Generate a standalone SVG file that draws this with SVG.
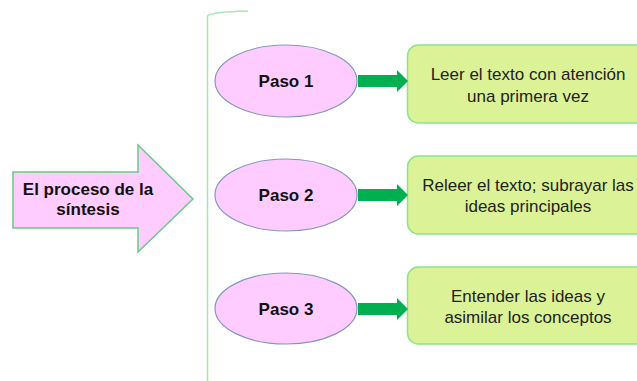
<svg xmlns="http://www.w3.org/2000/svg" width="637" height="381" viewBox="0 0 637 381">
<style>
.ell{fill:#FFCCFF;stroke:#8496BE;stroke-width:1.2}
.box{fill:#DCF296;stroke:#8EE28E;stroke-width:1.5}
.lbl{font-family:"Liberation Sans",Arial,sans-serif;font-size:17px;font-weight:bold;fill:#111;text-anchor:middle}
.txt{font-family:"Liberation Sans",Arial,sans-serif;font-size:17px;fill:#222;text-anchor:middle}
.garrow{fill:#00B050}
</style>
<rect width="637" height="381" fill="#fff"/>
<g id="main">
<polygon points="13,172 138,172 138,145 193,199 138,252 138,228 13,228" fill="#FFCCFF" stroke="#66CC88" stroke-width="1.5"/>
<text class="lbl" x="88" y="195">El proceso de la</text>
<text class="lbl" x="88" y="215">síntesis</text>
</g>
<g id="bracket">
<path d="M248,11 Q210,12 207.5,16 L207.5,381" fill="none" stroke="#A6E8B0" stroke-width="1.5"/>
</g>
<g id="paso1">
<ellipse class="ell" cx="286" cy="81" rx="71" ry="36"/>
<text class="lbl" x="286" y="87">Paso 1</text>
</g>
<g id="paso2">
<ellipse class="ell" cx="286" cy="195" rx="71" ry="36"/>
<text class="lbl" x="286" y="201">Paso 2</text>
</g>
<g id="paso3">
<ellipse class="ell" cx="286" cy="308.5" rx="71" ry="35.5"/>
<text class="lbl" x="286" y="314.5">Paso 3</text>
</g>
<g id="box1">
<rect class="box" x="407.5" y="45" width="250" height="78" rx="11"/>
<text class="txt" x="528" y="80">Leer el texto con atención</text>
<text class="txt" x="528" y="102">una primera vez</text>
</g>
<g id="box2">
<rect class="box" x="407.5" y="156" width="250" height="78" rx="11"/>
<text class="txt" x="528" y="191">Releer el texto; subrayar las</text>
<text class="txt" x="528" y="212">ideas principales</text>
</g>
<g id="box3">
<rect class="box" x="407.5" y="267" width="250" height="77" rx="11"/>
<text class="txt" x="528" y="302">Entender las ideas y</text>
<text class="txt" x="528" y="323">asimilar los conceptos</text>
</g>
<g id="connectors">
<polygon class="garrow" points="358,75 397,75 397,70 408,81 397,92 397,87 358,87"/>
<polygon class="garrow" points="358,189 397,189 397,184 408,195 397,206 397,201 358,201"/>
<polygon class="garrow" points="358,303 397,303 397,298 408,309 397,320 397,315 358,315"/>
</g>
</svg>
